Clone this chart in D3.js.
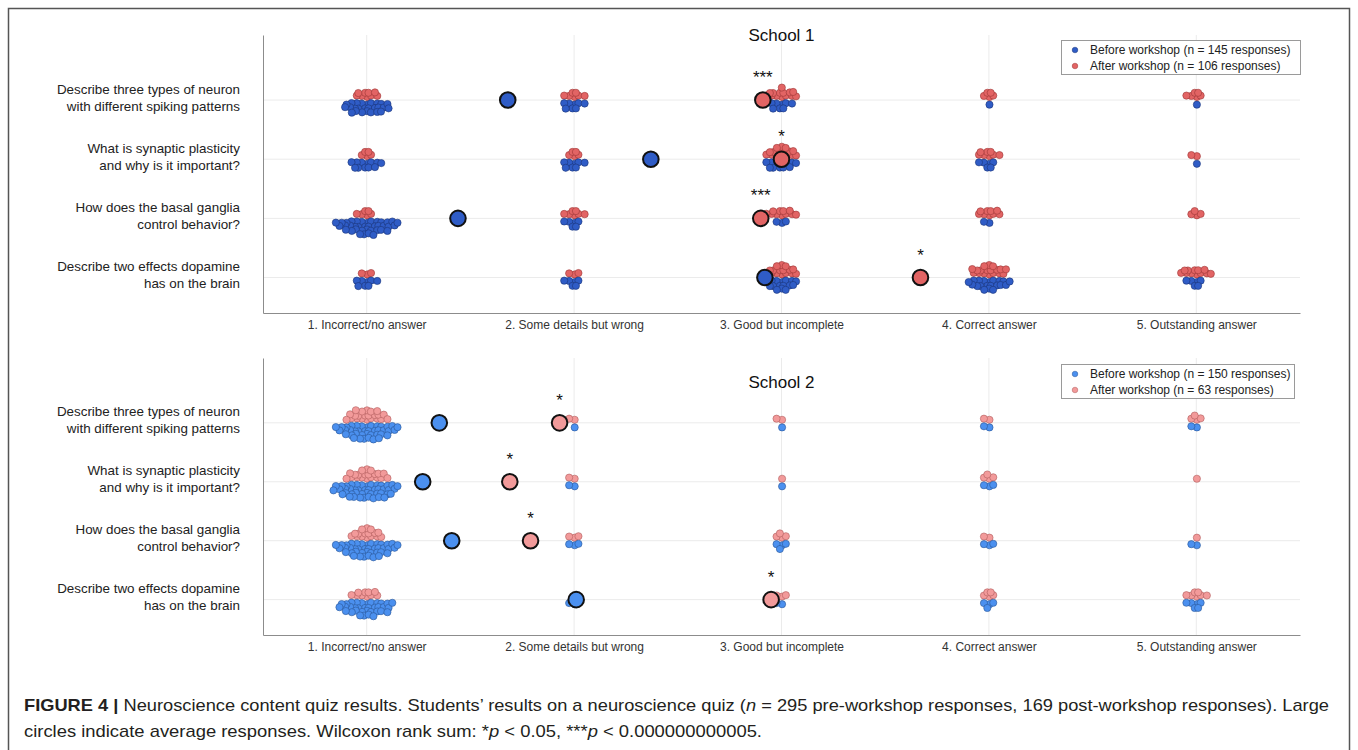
<!DOCTYPE html>
<html>
<head>
<meta charset="utf-8">
<title>Neuroscience quiz results</title>
<style>
  body { margin: 0; background: #fff; }
  svg text { font-family: "Liberation Sans", Arial, sans-serif; }
  .axis path { stroke: #8c8c8c; }
  .axis text { fill: #333; font-size: 12px; }
  .grid line { stroke: #ebebeb; }
</style>
<script src="https://d3js.org/d3.v7.min.js"></script>
</head>
<body>
<svg id="fig" width="1358" height="750"></svg>
<script>
// answer categories and quiz questions
var categories = ["1. Incorrect/no answer", "2. Some details but wrong", "3. Good but incomplete",
                  "4. Correct answer", "5. Outstanding answer"];
var questions = [
  ["Describe three types of neuron", "with different spiking patterns"],
  ["What is synaptic plasticity", "and why is it important?"],
  ["How does the basal ganglia", "control behavior?"],
  ["Describe two effects dopamine", "has on the brain"]
];

// School 1: responses per category (one row per question)
var s1Before = [[26, 8, 8, 1, 1], [12, 8, 12, 6, 1], [38, 6, 3, 2, 0], [8, 6, 16, 20, 6]];
var s1After  = [[9, 7, 14, 5, 6], [5, 5, 16, 8, 2], [6, 7, 11, 9, 4], [3, 3, 16, 18, 12]];
var s1BeforeMean = [1.68, 2.37, 1.44, 2.92];
var s1AfterMean  = [2.91, 3.00, 2.90, 3.67];
var s1Stars = ["***", "*", "***", "*"];

// School 2
var s2Before = [[40, 1, 1, 2, 2], [45, 2, 1, 3, 0], [40, 3, 4, 3, 2], [35, 2, 2, 4, 6]];
var s2After  = [[22, 2, 2, 2, 4], [20, 2, 1, 4, 1], [16, 3, 4, 2, 1], [10, 0, 3, 5, 7]];
var s2BeforeMean = [1.35, 1.27, 1.41, 2.01];
var s2AfterMean  = [1.93, 1.69, 1.79, 2.95];
var s2Stars = ["*", "*", "*", "*"];

var svg = d3.select("#fig");

// outer frame
svg.append("rect").attr("x", 8.5).attr("y", 8.5).attr("width", 1341).attr("height", 760)
  .attr("fill", "none").attr("stroke", "#555").attr("stroke-width", 1.5);

// swarm offsets: packed half-ellipse above (side -1) or below (side +1) the row line
function swarm(n, side) {
  var sx = 5.0, sy = 4.0, w = 2.3, cand = [];
  for (var j = 0; j < 10; j++) {
    for (var k = -18; k <= 18; k++) {
      var dx = (k + (j % 2) * 0.5) * sx;
      cand.push({dx: dx, j: j, c: dx * dx + Math.pow(w * j * sy, 2) + Math.abs(dx) * 0.01});
    }
  }
  cand.sort(function(a, b) { return a.c - b.c; });
  return cand.slice(0, n).map(function(d, i) {
    // small fixed wobble so the pack does not look like a grid
    var jx = Math.sin(i * 2.39 + 0.7) * 0.9, jy = Math.cos(i * 1.71 + 0.3) * 0.8;
    return {dx: d.dx + jx, dy: side * (3.8 + d.j * sy) + jy};
  });
}

function panel(opt) {
  var x = d3.scaleLinear().domain([0.5, 5.5]).range([263, 1300]);
  var y = d3.scaleLinear().domain([0.4, 5.1]).range([opt.bottom, opt.top]);
  var rows = [4, 3, 2, 1];
  var g = svg.append("g");

  // grid
  var grid = g.append("g").attr("class", "grid");
  grid.selectAll(".v").data([1, 2, 3, 4, 5]).enter().append("line")
    .attr("x1", function(d) { return x(d); }).attr("x2", function(d) { return x(d); })
    .attr("y1", y(5.1)).attr("y2", y(0.4));
  grid.selectAll(".h").data(rows).enter().append("line")
    .attr("x1", x(0.5)).attr("x2", x(5.5))
    .attr("y1", function(d) { return y(d); }).attr("y2", function(d) { return y(d); });

  // axes
  g.append("g").attr("class", "axis")
    .attr("transform", "translate(0," + y(0.4) + ")")
    .call(d3.axisBottom(x).tickValues([1, 2, 3, 4, 5]).tickSize(0).tickPadding(7)
      .tickFormat(function(d) { return categories[d - 1]; }));
  var ya = g.append("g").attr("class", "axis")
    .attr("transform", "translate(" + x(0.5) + ",0)")
    .call(d3.axisLeft(y).tickValues(rows).tickSize(0).tickPadding(23).tickFormat(""));
  ya.selectAll(".tick text").each(function(d) {
    var t = d3.select(this).attr("dy", null).style("font-size", "13.4px").style("fill", "#222");
    var q = questions[4 - d];
    t.append("tspan").attr("x", -23).attr("y", -7).text(q[0]);
    t.append("tspan").attr("x", -23).attr("y", 10).text(q[1]);
  });
  g.selectAll(".axis .domain").attr("stroke", "#8c8c8c");

  // title
  g.append("text").attr("x", x(3)).attr("y", opt.titleY).attr("text-anchor", "middle")
    .style("font-size", "17px").style("fill", "#111").text(opt.title);

  // dots
  function drawGroup(counts, side, fill, stroke) {
    counts.forEach(function(row, qi) {
      row.forEach(function(n, ci) {
        g.selectAll(null).data(swarm(n, side)).enter().append("circle")
          .attr("cx", function(d) { return x(ci + 1) + d.dx; })
          .attr("cy", function(d) { return y(rows[qi]) + d.dy; })
          .attr("r", 3.6).attr("fill", fill).attr("stroke", stroke).attr("stroke-width", 0.6);
      });
    });
  }
  drawGroup(opt.after, -1, opt.red, opt.redStroke);
  drawGroup(opt.before, 1, opt.blue, opt.blueStroke);

  // means
  g.selectAll(null).data(opt.beforeMean).enter().append("circle")
    .attr("cx", function(d) { return x(d); }).attr("cy", function(d, i) { return y(rows[i]); })
    .attr("r", 7.8).attr("fill", opt.blue).attr("stroke", "#111").attr("stroke-width", 2);
  g.selectAll(null).data(opt.afterMean).enter().append("circle")
    .attr("cx", function(d) { return x(d); }).attr("cy", function(d, i) { return y(rows[i]); })
    .attr("r", 7.8).attr("fill", opt.red).attr("stroke", "#111").attr("stroke-width", 2);
  g.selectAll(null).data(opt.afterMean).enter().append("text")
    .attr("x", function(d) { return x(d); }).attr("y", function(d, i) { return y(rows[i]) - 17; })
    .attr("text-anchor", "middle").style("font-size", "17px").style("fill", "#111")
    .text(function(d, i) { return opt.stars[i]; });

  // legend
  var lg = g.append("g").attr("transform", "translate(1061," + opt.legY + ")");
  lg.append("rect").attr("x", 0.5).attr("y", 0.5).attr("width", opt.legW).attr("height", 34)
    .attr("fill", "#fff").attr("stroke", "#9a9a9a");
  [[opt.blue, opt.blueStroke, opt.legBefore], [opt.red, opt.redStroke, opt.legAfter]].forEach(function(it, i) {
    lg.append("circle").attr("cx", 14).attr("cy", 10 + i * 16).attr("r", 2.8)
      .attr("fill", it[0]).attr("stroke", it[1]).attr("stroke-width", 0.5);
    lg.append("text").attr("x", 29).attr("y", 14 + i * 16).style("font-size", "12px")
      .style("fill", "#222").text(it[2]);
  });
}

panel({top: 35, bottom: 313, title: "School 1", titleY: 41,
  before: s1Before, after: s1After, beforeMean: s1BeforeMean, afterMean: s1AfterMean, stars: s1Stars,
  blue: "#2f5cc6", blueStroke: "#1b3477", red: "#e26464", redStroke: "#9c3636",
  legY: 40, legW: 239, legBefore: "Before workshop (n = 145 responses)", legAfter: "After workshop (n = 106 responses)"});

panel({top: 358, bottom: 635, title: "School 2", titleY: 388,
  before: s2Before, after: s2After, beforeMean: s2BeforeMean, afterMean: s2AfterMean, stars: s2Stars,
  blue: "#4b90ef", blueStroke: "#2a5596", red: "#f29a9a", redStroke: "#b05c5c",
  legY: 364, legW: 233, legBefore: "Before workshop (n = 150 responses)", legAfter: "After workshop (n = 63 responses)"});

// caption
var cap = svg.append("g").style("font-family", "'Liberation Sans Narrow', 'Liberation Sans', Arial, sans-serif")
  .style("font-size", "17px").style("fill", "#231f20");
var l1 = cap.append("text").attr("x", 24).attr("y", 711).attr("textLength", 1305).attr("lengthAdjust", "spacingAndGlyphs");
l1.append("tspan").style("font-weight", "bold").text("FIGURE 4 | ");
l1.append("tspan").text("Neuroscience content quiz results. Students\u2019 results on a neuroscience quiz (");
l1.append("tspan").style("font-style", "italic").text("n");
l1.append("tspan").text(" = 295 pre-workshop responses, 169 post-workshop responses). Large");
var l2 = cap.append("text").attr("x", 24).attr("y", 737).attr("textLength", 738).attr("lengthAdjust", "spacingAndGlyphs");
l2.append("tspan").text("circles indicate average responses. Wilcoxon rank sum: *");
l2.append("tspan").style("font-style", "italic").text("p");
l2.append("tspan").text(" < 0.05, ***");
l2.append("tspan").style("font-style", "italic").text("p");
l2.append("tspan").text(" < 0.000000000005.");
</script>
</body>
</html>
